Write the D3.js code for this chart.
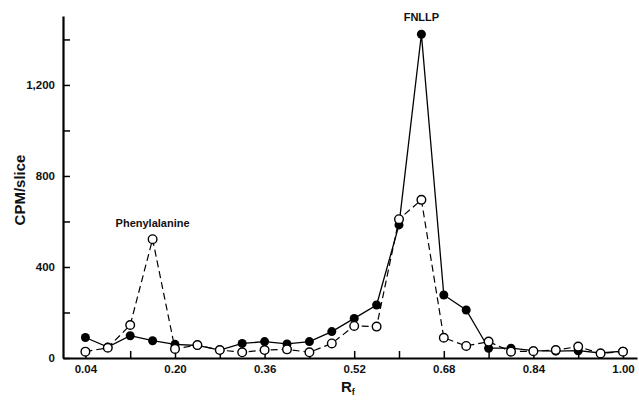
<!DOCTYPE html>
<html><head><meta charset="utf-8">
<script src="https://cdn.jsdelivr.net/npm/d3@7"></script>
<style>body{margin:0;background:#fff}svg{display:block}</style>
</head><body>
<svg id="c" width="639" height="401"></svg>
<script>
const rf = [0.04,0.08,0.12,0.16,0.20,0.24,0.28,0.32,0.36,0.40,0.44,0.48,0.52,0.56,0.60,0.64,0.68,0.72,0.76,0.80,0.84,0.88,0.92,0.96,1.00];
const filledSeries = [90,48,98,76,60,55,35,64,72,62,72,116,174,233,585,1423,277,211,43,43,32,30,32,22,30];
const openSeries   = [28,45,145,522,40,57,35,25,35,38,25,64,141,138,610,695,89,53,72,28,30,35,50,20,28];
const xTickVals = [0.04,0.12,0.20,0.28,0.36,0.44,0.52,0.60,0.68,0.76,0.84,0.92,1.00];
const xTickLabels = ["0.04","","0.20","","0.36","","0.52","","0.68","","0.84","","1.00"];
const yTickVals = [0,200,400,600,800,1000,1200,1400];
const yTickLabels = ["0","","400","","800","","1,200",""];
const annotations = [{text:"Phenylalanine", x:0.16, y:522}, {text:"FNLLP", x:0.64, y:1423}];

const svg = d3.select("#c");
const x = d3.scaleLinear().domain([0, 1.025]).range([63, 637]);
const y = d3.scaleLinear().domain([0, 1503]).range([358, 16]);
const font = "'Liberation Sans', Arial, sans-serif";

const xAxis = d3.axisBottom(x).tickValues(xTickVals).tickSizeInner(-7).tickSizeOuter(0)
  .tickFormat((d,i)=>xTickLabels[i]).tickPadding(7);
const gx = svg.append("g").attr("transform","translate(0,358)").call(xAxis);
gx.select(".domain").attr("stroke","#000").attr("stroke-width",2.2);
gx.selectAll(".tick line").attr("stroke","#000").attr("stroke-width",1.5);
gx.selectAll("text").attr("font-family",font).attr("font-size",11.5).attr("font-weight","bold").attr("fill","#111");

const yAxis = d3.axisLeft(y).tickValues(yTickVals).tickSizeInner(-7).tickSizeOuter(0)
  .tickFormat((d,i)=>yTickLabels[i]).tickPadding(8);
const gy = svg.append("g").attr("transform","translate(63,0)").call(yAxis);
gy.select(".domain").attr("stroke","#000").attr("stroke-width",2.2);
gy.selectAll(".tick line").attr("stroke","#000").attr("stroke-width",1.5);
gy.selectAll("text").attr("font-family",font).attr("font-size",11.5).attr("font-weight","bold").attr("fill","#111");

const line = d3.line().x(d=>x(d[0])).y(d=>y(d[1]));
const openData = rf.map((r,i)=>[r, openSeries[i]]);
const filledData = rf.map((r,i)=>[r, filledSeries[i]]);

svg.append("path").datum(openData).attr("d",line).attr("fill","none")
  .attr("stroke","#000").attr("stroke-width",1.2).attr("stroke-dasharray","7,4");
svg.append("path").datum(filledData).attr("d",line).attr("fill","none")
  .attr("stroke","#000").attr("stroke-width",1.3);

svg.selectAll("circle.f").data(filledData).enter().append("circle")
  .attr("cx",d=>x(d[0])).attr("cy",d=>y(d[1])).attr("r",4.5).attr("fill","#000");
svg.selectAll("circle.o").data(openData).enter().append("circle")
  .attr("cx",d=>x(d[0])).attr("cy",d=>y(d[1])).attr("r",4.3)
  .attr("fill","#fff").attr("stroke","#000").attr("stroke-width",1.4);

svg.selectAll("text.ann").data(annotations).enter().append("text")
  .attr("x",d=>x(d.x)).attr("y",(d,i)=>y(d.y) - (i===0?12:13))
  .attr("text-anchor","middle").attr("font-family",font).attr("font-weight","bold")
  .attr("font-size",11).attr("fill","#111").text(d=>d.text);

svg.append("text").attr("transform","translate(25,190) rotate(-90)")
  .attr("text-anchor","middle").attr("font-family",font).attr("font-size",15)
  .attr("font-weight","bold").attr("fill","#111").text("CPM/slice");

const xt = svg.append("text").attr("x",341).attr("y",392).attr("font-family",font)
  .attr("font-size",15).attr("font-weight","bold").attr("fill","#111");
xt.append("tspan").text("R");
xt.append("tspan").attr("font-size",9).attr("dy",3).text("f");
</script>
</body></html>
